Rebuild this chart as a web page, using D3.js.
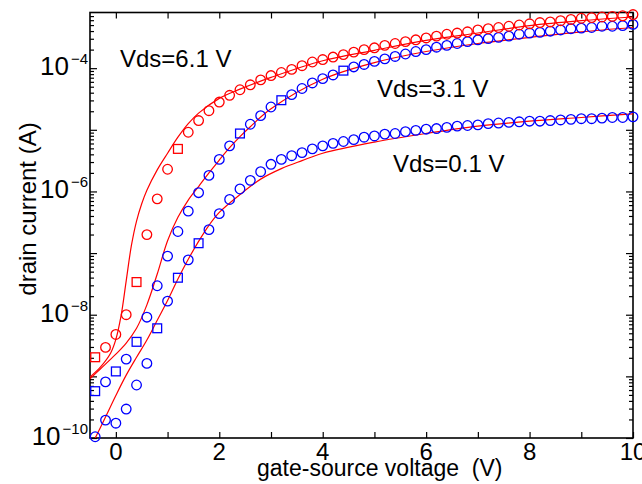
<!DOCTYPE html>
<html>
<head>
<meta charset="utf-8">
<script src="https://cdn.jsdelivr.net/npm/d3@7"></script>
<style>
  body { margin: 0; background: #fff; }
  svg { font-family: "Liberation Sans", Arial, sans-serif; }
</style>
</head>
<body>
<svg width="642" height="484"></svg>
<script>

// measured gate-source voltages (V)
var vgs = [-0.4, -0.2, 0, 0.2, 0.4, 0.6, 0.8, 1, 1.2, 1.4, 1.6, 1.8, 2, 2.2, 2.4, 2.6, 2.8, 3,
  3.2, 3.4, 3.6, 3.8, 4, 4.2, 4.4, 4.6, 4.8, 5, 5.2, 5.4, 5.6, 5.8, 6, 6.2, 6.4, 6.6, 6.8, 7,
  7.2, 7.4, 7.6, 7.8, 8, 8.2, 8.4, 8.6, 8.8, 9, 9.2, 9.4, 9.6, 9.8, 10];

// measured drain current, log10(A)
var meas61 = [-8.69, -8.53, -8.32, -8.00, -7.47, -6.70, -6.12, -5.64, -5.31, -5.04, -4.85, -4.69,
  -4.55, -4.44, -4.35, -4.27, -4.19, -4.12, -4.07, -4.02, -3.96, -3.90, -3.86, -3.82, -3.78,
  -3.74, -3.70, -3.67, -3.63, -3.60, -3.57, -3.54, -3.51, -3.48, -3.45, -3.43, -3.41, -3.38,
  -3.36, -3.34, -3.32, -3.30, -3.28, -3.26, -3.25, -3.23, -3.21, -3.19, -3.18, -3.17, -3.16,
  -3.15, -3.13];
var meas31 = [-9.24, -9.09, -8.92, -8.72, -8.44, -8.04, -7.53, -7.05, -6.65, -6.32, -6.02, -5.74,
  -5.48, -5.26, -5.06, -4.91, -4.77, -4.63, -4.52, -4.43, -4.33, -4.24, -4.17, -4.11, -4.04,
  -3.98, -3.94, -3.89, -3.85, -3.81, -3.77, -3.73, -3.70, -3.66, -3.63, -3.60, -3.57, -3.54,
  -3.52, -3.50, -3.48, -3.45, -3.43, -3.42, -3.40, -3.38, -3.36, -3.35, -3.34, -3.32, -3.32,
  -3.31, -3.29];
var meas01 = [-9.98, -9.71, -9.76, -9.53, -9.14, -8.79, -8.22, -7.78, -7.40, -7.11, -6.84, -6.62,
  -6.36, -6.13, -5.96, -5.82, -5.68, -5.56, -5.48, -5.42, -5.37, -5.31, -5.26, -5.22, -5.19,
  -5.16, -5.12, -5.10, -5.07, -5.06, -5.03, -5.01, -4.99, -4.98, -4.96, -4.94, -4.93, -4.92,
  -4.90, -4.89, -4.88, -4.87, -4.86, -4.86, -4.85, -4.84, -4.83, -4.82, -4.82, -4.81, -4.80,
  -4.80, -4.79];

// points drawn as squares instead of circles
var sq61 = [-0.4, 0.4, 1.2];
var sq31 = [-0.4, 0, 0.4, 2.4, 3.2, 4.4];
var sq01 = [0.8, 1.2, 1.6];

// model curves
var modelX61 = [-0.5, -0.3, -0.1, 0, 0.1, 0.2, 0.3, 0.4, 0.5, 0.6, 0.8, 1, 1.2, 1.4, 1.6, 2, 2.4, 3, 4, 5, 6, 7, 8, 9, 10];
var model61 = [-9.01, -8.85, -8.62, -8.40, -8.02, -7.45, -6.88, -6.48, -6.20, -5.98, -5.65, -5.38, -5.12,
  -4.90, -4.73, -4.49, -4.34, -4.15, -3.88, -3.71, -3.55, -3.43, -3.31, -3.23, -3.17];
var modelX31 = [-0.5, -0.3, 0, 0.2, 0.4, 0.6, 0.8, 1, 1.2, 1.4, 1.6, 1.8, 2, 2.2, 2.4, 2.6, 3, 4, 5, 6, 7, 8, 9, 10];
var model31 = [-9.04, -8.88, -8.64, -8.46, -8.22, -7.84, -7.34, -6.80, -6.42, -6.14, -5.92, -5.70,
  -5.49, -5.29, -5.11, -4.95, -4.66, -4.18, -3.91, -3.73, -3.60, -3.50, -3.41, -3.34];
var modelX01 = [-0.5, -0.4, -0.2, 0, 0.2, 0.4, 0.6, 0.8, 1, 1.2, 1.4, 1.6, 1.8, 2, 2.4, 2.8, 3.2, 3.6, 4, 5, 6, 7, 8, 9, 10];
var model01 = [-10.15, -10.0, -9.66, -9.31, -8.98, -8.69, -8.41, -8.09, -7.77, -7.42, -7.10, -6.81,
  -6.55, -6.34, -6.05, -5.80, -5.63, -5.50, -5.38, -5.20, -5.06, -4.94, -4.86, -4.80, -4.74];

var xTicks = [0, 1, 2, 3, 4, 5, 6, 7, 8, 9, 10];
var xLabels = [0, 2, 4, 6, 8, 10];
var yDecades = [-10, -9, -8, -7, -6, -5, -4];
var yLabels = [-10, -8, -6, -4];

var red = "#ff0000";
var blue = "#0000ff";

var svg = d3.select("svg");
var marginLeft = 90, marginTop = 12.5, width = 543, height = 425.5;

var x = d3.scaleLinear().domain([-0.5, 10]).range([0, width]);
var y = d3.scaleLog().domain([1e-10, 8e-4]).range([height, 0]);

svg.append("defs").append("clipPath").attr("id", "plot")
  .append("rect").attr("width", width).attr("height", height);

var g = svg.append("g").attr("transform", "translate(" + marginLeft + "," + marginTop + ")");

// minor log ticks
var minor = [];
yDecades.forEach(function(e) {
  for (var k = 2; k <= 9; k++) {
    var v = k * Math.pow(10, e);
    if (v < 8e-4) minor.push(v);
  }
});
var major = yDecades.map(function(e) { return Math.pow(10, e); });

function tickAxis(axis, vals, size, tr) {
  g.append("g")
    .attr("transform", tr || null)
    .call(axis.tickValues(vals).tickSize(size).tickFormat(""))
    .call(function(s) {
      s.select(".domain").remove();
      s.selectAll("line").attr("stroke", "#000").attr("stroke-width", 1.2);
    });
}
tickAxis(d3.axisBottom(x), xTicks, -6, "translate(0," + height + ")");
tickAxis(d3.axisTop(x), xTicks, -6);
tickAxis(d3.axisLeft(y), major, -7);
tickAxis(d3.axisLeft(y), minor, -4);
tickAxis(d3.axisRight(y), major, -7, "translate(" + width + ",0)");
tickAxis(d3.axisRight(y), minor, -4, "translate(" + width + ",0)");

g.append("rect")
  .attr("width", width).attr("height", height)
  .attr("fill", "none").attr("stroke", "#000").attr("stroke-width", 1.6);

// x tick labels
g.selectAll(".xl").data(xLabels).enter().append("text")
  .attr("class", "xl")
  .attr("x", function(d) { return x(d); })
  .attr("y", height + 22)
  .attr("text-anchor", "middle")
  .attr("font-size", 24)
  .text(function(d) { return d; });

// y tick labels with superscript exponent
var yl = g.selectAll(".yl").data(yLabels).enter().append("text")
  .attr("class", "yl")
  .attr("x", -2)
  .attr("y", function(d) { return y(Math.pow(10, d)) + 7; })
  .attr("text-anchor", "end");
yl.append("tspan").attr("font-size", 26).text("10");
yl.append("tspan").attr("font-size", 15).attr("dx", 2).attr("dy", -11)
  .text(function(d) { return "\u2212" + Math.abs(d); });

// axis titles
svg.append("text")
  .attr("x", 257).attr("y", 476)
  .attr("font-size", 23)
  .style("white-space", "pre")
  .text("gate-source voltage  (V)");

svg.append("text")
  .attr("transform", "translate(36,209) rotate(-90)")
  .attr("text-anchor", "middle")
  .attr("font-size", 24)
  .text("drain current (A)");

// model lines
var line = d3.line()
  .x(function(d) { return x(d[0]); })
  .y(function(d) { return y(Math.pow(10, d[1])); })
  .curve(d3.curveCatmullRom.alpha(0.5));

[[modelX61, model61], [modelX31, model31], [modelX01, model01]].forEach(function(m) {
  g.append("path")
    .datum(m[0].map(function(v, i) { return [v, m[1][i]]; }))
    .attr("clip-path", "url(#plot)")
    .attr("fill", "none")
    .attr("stroke", red)
    .attr("stroke-width", 1.2)
    .attr("d", line);
});

// measured points
function drawPoints(vals, squares, color) {
  var data = vgs.map(function(v, i) { return {x: v, y: Math.pow(10, vals[i]), sq: squares.indexOf(v) >= 0}; });
  var pg = g.append("g").attr("fill", "none").attr("stroke", color).attr("stroke-width", 1.3);
  pg.selectAll("circle").data(data.filter(function(d) { return !d.sq; })).enter().append("circle")
    .attr("cx", function(d) { return x(d.x); })
    .attr("cy", function(d) { return y(d.y); })
    .attr("r", 4.8);
  pg.selectAll("rect").data(data.filter(function(d) { return d.sq; })).enter().append("rect")
    .attr("x", function(d) { return x(d.x) - 4.4; })
    .attr("y", function(d) { return y(d.y) - 4.4; })
    .attr("width", 8.8).attr("height", 8.8);
}
drawPoints(meas01, sq01, blue);
drawPoints(meas31, sq31, blue);
drawPoints(meas61, sq61, red);

// annotations
var notes = [["Vds=6.1 V", 120, 66.5], ["Vds=3.1 V", 377, 96.5], ["Vds=0.1 V", 393, 171.5]];
svg.selectAll(".note").data(notes).enter().append("text")
  .attr("class", "note")
  .attr("x", function(d) { return d[1]; })
  .attr("y", function(d) { return d[2]; })
  .attr("font-size", 24)
  .text(function(d) { return d[0]; });

</script>
</body>
</html>
